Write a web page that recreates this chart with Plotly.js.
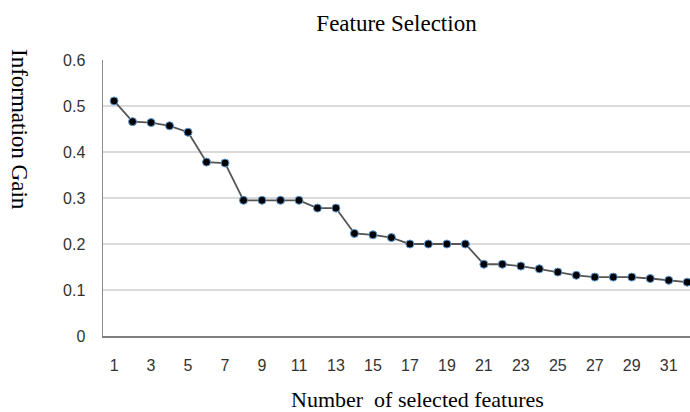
<!DOCTYPE html>
<html>
<head>
<meta charset="utf-8">
<script src="https://cdn.plot.ly/plotly-3.0.1.min.js"></script>
<style>html,body{margin:0;padding:0;background:#fff;}#chart{width:690px;height:412px;}</style>
</head>
<body>
<div id="chart"></div>
<script>
const featureCounts = [1,2,3,4,5,6,7,8,9,10,11,12,13,14,15,16,17,18,19,20,21,22,23,24,25,26,27,28,29,30,31,32];
const infoGain = [0.511,0.466,0.464,0.457,0.443,0.378,0.376,0.295,0.295,0.295,0.295,0.278,0.278,0.223,0.220,0.214,0.200,0.200,0.200,0.200,0.156,0.156,0.152,0.146,0.139,0.132,0.128,0.128,0.128,0.125,0.121,0.117];
const xTickVals = [1,3,5,7,9,11,13,15,17,19,21,23,25,27,29,31];
const yTickVals = [0,0.1,0.2,0.3,0.4,0.5,0.6];
const yTickText = ['0','0.1','0.2','0.3','0.4','0.5','0.6'];

const serif = '"Liberation Serif", "Times New Roman", serif';
const sans = '"Liberation Sans", Arial, sans-serif';

const trace = {
  x: featureCounts, y: infoGain, type: 'scatter', mode: 'lines+markers',
  line: {color: '#555555', width: 1.8},
  marker: {color: '#000000', size: 8, line: {color: '#5b9bd5', width: 1}},
  cliponaxis: true, hoverinfo: 'x+y'
};

const layout = {
  width: 690, height: 412,
  margin: {l: 103, r: 0, t: 60, b: 76},
  paper_bgcolor: '#ffffff', plot_bgcolor: '#ffffff',
  showlegend: false,
  title: {text: 'Feature Selection', font: {family: serif, size: 23, color: '#000'},
          x: 0.5, xref: 'paper', y: 1 - 23/412, yref: 'container', yanchor: 'middle'},
  xaxis: {
    range: [0.4, 32.15], tickvals: xTickVals, ticktext: xTickVals.map(String),
    showgrid: false, zeroline: false, showline: true, linecolor: '#7f7f7f', linewidth: 2,
    ticks: '', ticklabelstandoff: 14,
    tickfont: {family: sans, size: 16, color: '#333333'}
  },
  yaxis: {
    range: [0, 0.6], tickvals: yTickVals, ticktext: yTickText,
    showgrid: true, gridcolor: '#dadada', gridwidth: 1.5, zeroline: false,
    showline: true, linecolor: '#8c8c8c', linewidth: 1.5, ticks: '',
    ticklabelstandoff: 13,
    tickfont: {family: sans, size: 16, color: '#333333'}
  },
  annotations: [
    {text: 'Number&nbsp;&nbsp;of selected features', xref: 'paper', yref: 'paper',
     x: (417-103)/587, y: -(399-336)/276, xanchor: 'center', yanchor: 'middle', showarrow: false,
     font: {family: serif, size: 22, color: '#000'}},
    {text: 'Information Gain', xref: 'paper', yref: 'paper', textangle: 90,
     x: -(103-20)/587, y: (336-129)/276, xanchor: 'center', yanchor: 'middle', showarrow: false,
     font: {family: serif, size: 23, color: '#000'}}
  ]
};

Plotly.newPlot('chart', [trace], layout, {displayModeBar: false, staticPlot: true});
</script>
</body>
</html>
